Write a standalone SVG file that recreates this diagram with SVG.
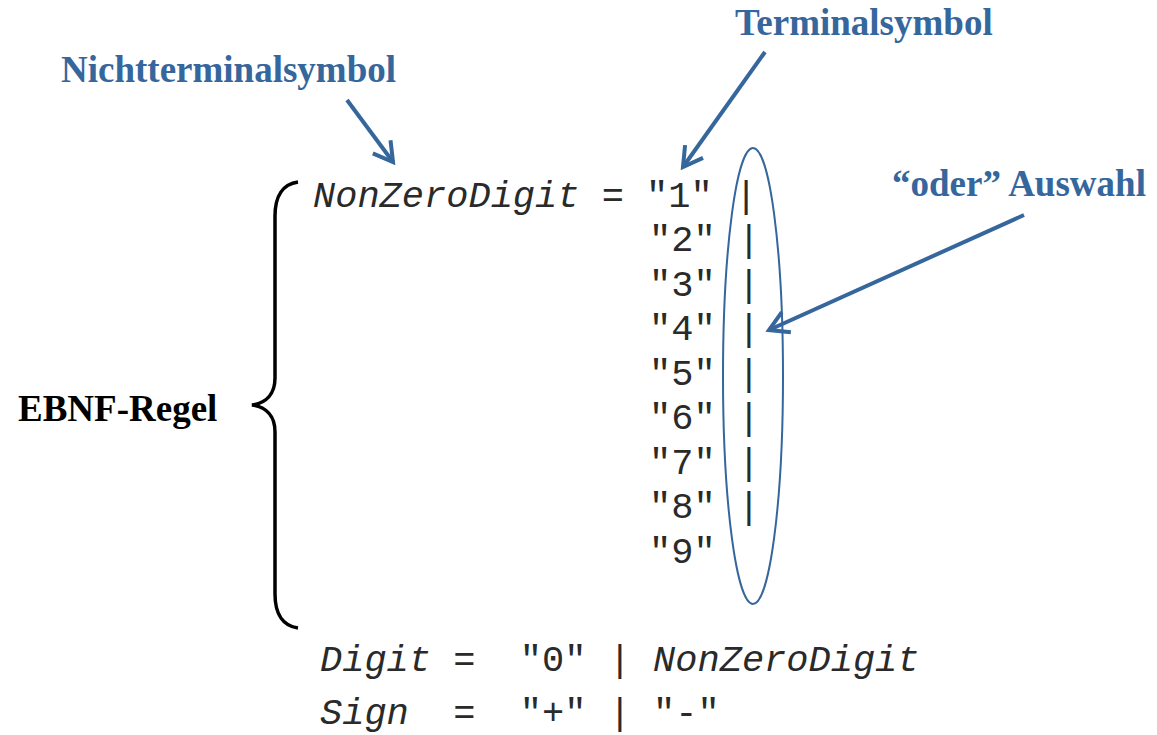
<svg xmlns="http://www.w3.org/2000/svg" width="1157" height="735" viewBox="0 0 1157 735">
<style>
.lbl{font-family:"Liberation Serif",serif;font-weight:bold;font-size:37px;fill:#35669c}
.code{font-family:"Liberation Mono",monospace;font-size:37px;fill:#2a2a2a;white-space:pre}
.it{font-style:italic}
.arr{stroke:#35669c;stroke-width:4;fill:none}
</style>
<defs>
<marker id="ah" markerUnits="userSpaceOnUse" viewBox="-24 -15 28 30" markerWidth="28" markerHeight="30" refX="0" refY="0" orient="auto">
<path d="M-19,-11 L0,0 L-19,11" fill="none" stroke="#35669c" stroke-width="4"/>
</marker>
</defs>
<rect width="1157" height="735" fill="#fff"/>
<g id="label-nichtterminal"><text class="lbl" x="61" y="82">Nichtterminalsymbol</text></g>
<g id="label-terminal"><text class="lbl" x="735" y="35">Terminalsymbol</text></g>
<g id="label-oder"><text class="lbl" x="892" y="196">“oder” Auswahl</text></g>
<g id="label-ebnf"><text x="18" y="421" style="font-family:'Liberation Serif',serif;font-weight:bold;font-size:37px;fill:#000">EBNF-Regel</text></g>
<g id="brace"><path d="M298,182 C283,184 275,196 275,216 L275,378 C275,394 266,403 252,405 C266,407 275,416 275,432 L275,594 C275,614 283,626 298,628" fill="none" stroke="#000" stroke-width="3.5"/></g>
<g id="rule-nonzero">
<text class="code" x="313" y="207"><tspan class="it">NonZeroDigit</tspan> = "1" |</text>
<text class="code" x="649" y="251">"2" |</text>
<text class="code" x="649" y="296">"3" |</text>
<text class="code" x="649" y="340">"4" |</text>
<text class="code" x="649" y="385">"5" |</text>
<text class="code" x="649" y="429">"6" |</text>
<text class="code" x="649" y="474">"7" |</text>
<text class="code" x="649" y="518">"8" |</text>
<text class="code" x="649" y="563">"9"</text>
</g>
<g id="rule-digit"><text class="code" x="320" y="671"><tspan class="it">Digit</tspan> =  "0" | <tspan class="it">NonZeroDigit</tspan></text></g>
<g id="rule-sign"><text class="code" x="320" y="724"><tspan class="it">Sign</tspan>  =  "+" | "-"</text></g>
<g id="ellipse"><ellipse cx="753" cy="376" rx="30" ry="228" fill="none" stroke="#35669c" stroke-width="2"/></g>
<g id="connectors">
<line class="arr" x1="347" y1="100" x2="393" y2="162" marker-end="url(#ah)"/>
<line class="arr" x1="765" y1="52" x2="683" y2="167" marker-end="url(#ah)"/>
<line class="arr" x1="1024" y1="215" x2="769" y2="330" marker-end="url(#ah)"/>
</g>
</svg>
